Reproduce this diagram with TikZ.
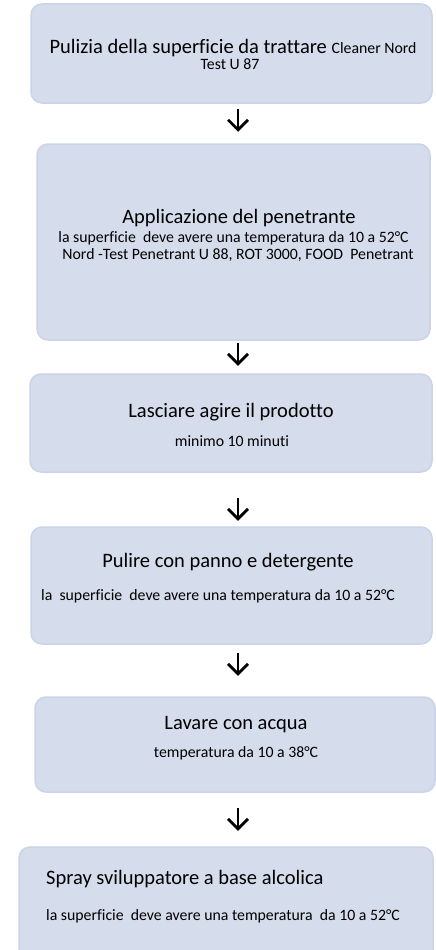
\documentclass[tikz,border=0pt]{standalone}
\usepackage{fontspec}
\setmainfont{Carlito}[Ligatures=NoCommon]
\usepackage{tikz}
\usetikzlibrary{calc,arrows.meta}
\definecolor{boxfill}{HTML}{D5DCEB}
\definecolor{boxline}{HTML}{CBD3E6}
\definecolor{ink}{HTML}{000000}
\tikzset{
  stepbox/.style={draw=boxline, fill=boxfill, line width=1.5pt, rounded corners=11pt, inner sep=0pt},
  big/.style={text=ink, font=\fontsize{20.5}{24}\selectfont, anchor=base, inner sep=0pt},
  small/.style={text=ink, font=\fontsize{15.8}{19}\selectfont, anchor=base, inner sep=0pt},
  arr/.style={draw=ink, line width=2.8pt, -{Straight Barb[length=10pt,width=20pt]}}
}

\begin{document}
\begin{tikzpicture}[x=1pt, y=-1pt]
  \clip (0,0) rectangle (436,950);
  \coordinate (ax) at (238,0);
  % boxes
  \node[stepbox, minimum width=401pt, minimum height=99pt]  (b1) at (231.5,53.5) {};
  \node[stepbox, minimum width=393pt, minimum height=196pt] (b2) at (233.5,242) {};
  \node[stepbox, minimum width=402pt, minimum height=98pt]  (b3) at (231,423) {};
  \node[stepbox, minimum width=401pt, minimum height=117pt] (b4) at (231.5,585.5) {};
  \node[stepbox, minimum width=400pt, minimum height=95pt]  (b5) at (235,744.5) {};
  \node[stepbox, minimum width=414pt, minimum height=140pt] (b6) at (226,917) {};
  % texts
  \node[big] (t1a) at (233,54) {Pulizia della superficie da trattare {\fontsize{15.8}{19}\selectfont Cleaner Nord}};
  \node[small] (t1b) at (230,70) {Test U 87};
  \node[big] (t2a) at (239,223) {Applicazione del penetrante};
  \node[small] (t2b) at (233.5,242) {la superficie\ \ deve avere una temperatura da 10 a 52°C};
  \node[small] (t2c) at (238,259) {Nord -Test Penetrant U 88, ROT 3000, FOOD\ \ Penetrant};
  \node[big] (t3a) at (231,417) {Lasciare agire il prodotto};
  \node[small] (t3b) at (232,446) {minimo 10 minuti};
  \node[big] (t4a) at (228,567) {Pulire con panno e detergente};
  \node[small] (t4b) at (218,600) {la\ \ superficie\ \ deve avere una temperatura da 10 a 52°C};
  \node[big] (t5a) at (236,729) {Lavare con acqua};
  \node[small] (t5b) at (236,757) {temperatura da 10 a 38°C};
  \node[big, anchor=base west] (t6a) at (46,884) {Spray sviluppatore a base alcolica};
  \node[small, anchor=base west] (t6b) at (46,920) {la superficie\ \ deve avere una temperatura\ \ da 10 a 52°C};
  % arrows
  \foreach \from/\gap in {b1/5, b2/2, b3/25, b4/8, b5/15}
    \draw[arr] ([yshift=-\gap pt]\from.south -| ax) -- ++(0,23);
\end{tikzpicture}
\end{document}
